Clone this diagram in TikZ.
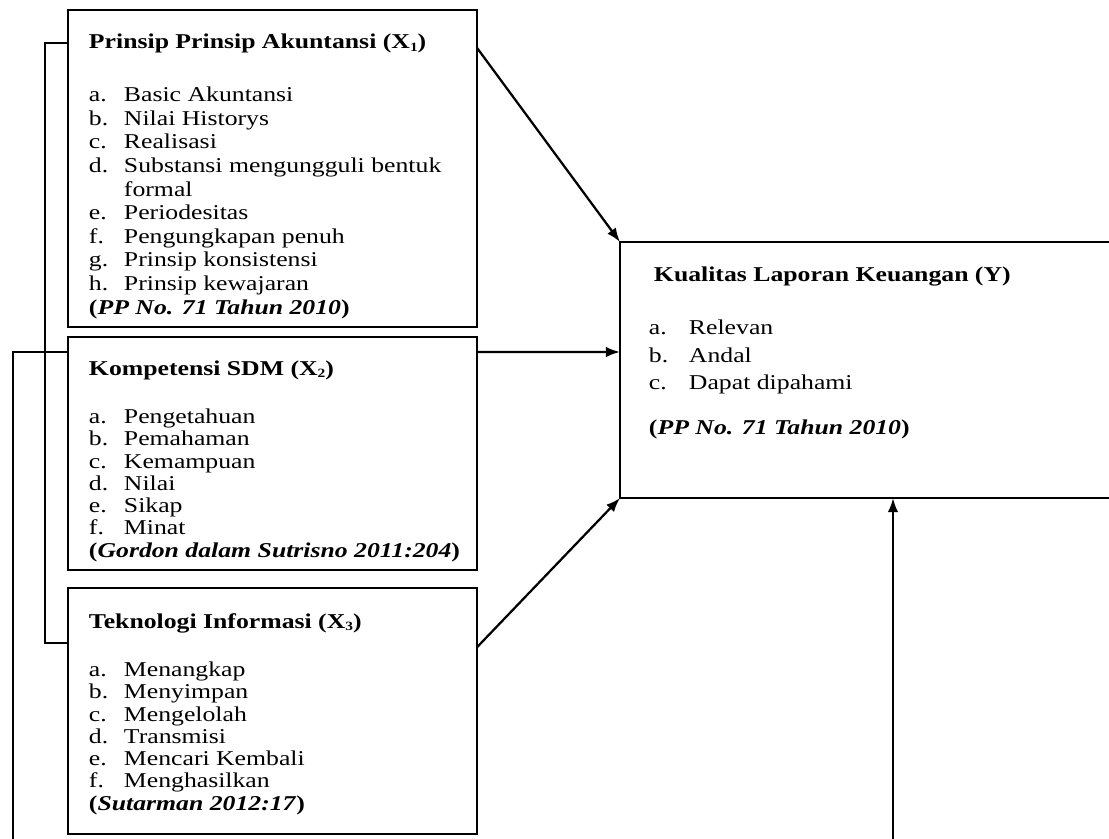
\documentclass[tikz,border=0pt]{standalone}
\usepackage{fontspec}
\setmainfont{Liberation Serif}[FakeStretch=1.22]
\usetikzlibrary{positioning}
\usetikzlibrary{calc}
\usetikzlibrary{arrows.meta}
\newcommand{\itm}[2]{\makebox[0.875cm][l]{#1}#2}
\newcommand{\itmy}[2]{\makebox[1cm][l]{#1}#2}
\newcommand{\sbs}[1]{\raisebox{-2pt}{\fontsize{9}{9}\selectfont #1}}
\tikzset{box/.style={draw,inner sep=0pt,outer sep=0pt,minimum width=10.225cm,anchor=north west},
ttl/.style={anchor=base west,inner sep=0pt,font=\fontsize{15}{18}\selectfont\bfseries},
lst/.style={anchor=north west,inner sep=0pt,align=left,font=\fontsize{15}{#1}\selectfont},
arr/.style={line width=1.6pt,-{Latex[length=10pt,width=7.5pt]}}}

\begin{document}
\begin{tikzpicture}[x=0.025cm, y=-0.025cm, line width=1.4pt]
\useasboundingbox (0,0) rectangle (1109,839);
\clip (0,0) rectangle (1109,839);
\node (x1) at (68,10) [box, minimum height=7.925cm] {};
\node (x2) [box, below=0.25cm of x1.south west, anchor=north west, minimum height=5.825cm] {};
\node (x3) [box, below=0.45cm of x2.south west, anchor=north west, minimum height=6.15cm] {};
\node (y) at (620,242) [box, minimum width=13.5cm, minimum height=6.4cm] {};

\node (x1t) [ttl] at ($(x1.north west)+(20,39)$) {Prinsip Prinsip Akuntansi (X\sbs{1})};
\node (x1l) [lst=16.8pt] at ($(x1.north west)+(20,76)$) {\itm{a.}{Basic Akuntansi}\\
\itm{b.}{Nilai Historys}\\ \itm{c.}{Realisasi}\\
\itm{d.}{Substansi mengungguli bentuk}\\ \hspace*{0.875cm}formal\\
\itm{e.}{Periodesitas}\\ \itm{f.}{Pengungkapan penuh}\\
\itm{g.}{Prinsip konsistensi}\\ \itm{h.}{Prinsip kewajaran}\\
\textbf{(\textit{PP No. 71 Tahun 2010})}};

\node (x2t) [ttl] at ($(x2.north west)+(20,38)$) {Kompetensi SDM (X\sbs{2})};
\node (x2l) [lst=15.8pt] at ($(x2.north west)+(20,71)$) {\itm{a.}{Pengetahuan}\\
\itm{b.}{Pemahaman}\\ \itm{c.}{Kemampuan}\\ \itm{d.}{Nilai}\\
\itm{e.}{Sikap}\\ \itm{f.}{Minat}\\
\textbf{(\textit{Gordon dalam Sutrisno 2011:204})}};

\node (x3t) [ttl] at ($(x3.north west)+(20,40)$) {Teknologi Informasi (X\sbs{3})};
\node (x3l) [lst=15.8pt] at ($(x3.north west)+(20,73)$) {\itm{a.}{Menangkap}\\
\itm{b.}{Menyimpan}\\ \itm{c.}{Mengelolah}\\ \itm{d.}{Transmisi}\\
\itm{e.}{Mencari Kembali}\\ \itm{f.}{Menghasilkan}\\
\textbf{(\textit{Sutarman 2012:17})}};

\node (yt) [ttl] at ($(y.north west)+(33,40)$) {Kualitas Laporan Keuangan (Y)};
\node (yl) [lst=19.5pt] at ($(y.north west)+(28,77)$) {\itmy{a.}{Relevan}\\
\itmy{b.}{Andal}\\ \itmy{c.}{Dapat dipahami}\\[12.5pt]
\textbf{(\textit{PP No. 71 Tahun 2010})}};

% panah ke Y
\draw[arr] ($(x1.north east)+(0,38)$) -- (y.north west);
\draw[arr] ($(x2.north east)+(0,15)$) -- ($(y.north west)+(0,110)$);
\draw[arr] ($(x3.north east)+(0,59)$) -- (y.south west);
% garis kiri
\draw ($(x1.north west)+(0,33)$) -- ++(-23,0) |- ($(x3.north west)+(0,55)$);
\draw[arr] ($(x2.north west)+(0,15)$) -| ($(x2.north west)+(-55,540)$) -| ($(y.south west)+(273,0)$);
\end{tikzpicture}
\end{document}
